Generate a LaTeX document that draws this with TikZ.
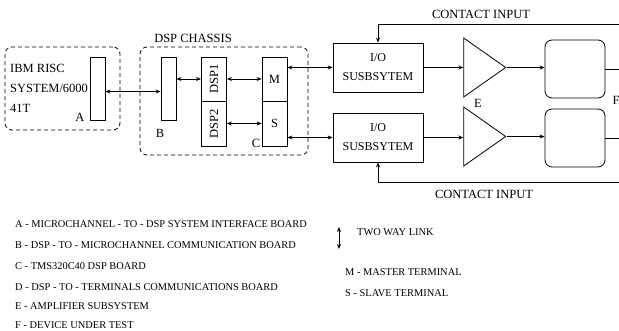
\documentclass[tikz,border=0pt]{standalone}
\usepackage{fontspec}
\setmainfont{Liberation Serif}
\usepackage{tikz}
\usetikzlibrary{arrows.meta, positioning, shapes.geometric}

\tikzset{
  board/.style={draw, line width=0.8pt, inner sep=0pt},
  group/.style={draw, line width=0.8pt, dash pattern=on 4pt off 3pt, rounded corners=7pt, inner sep=0pt},
  link/.style={line width=0.8pt, <->},
  flow/.style={line width=0.8pt, ->},
  amp/.style={draw, line width=0.8pt, isosceles triangle, isosceles triangle stretches,
    inner sep=0pt, minimum width=59pt, minimum height=42pt},
  dut/.style={draw, line width=0.8pt, rounded corners=7pt, minimum width=60pt, minimum height=58pt},
  legend/.style={anchor=west, inner sep=0pt, font=\fontsize{10.4}{12}\selectfont},
}

\begin{document}
\begin{tikzpicture}[x=1pt, y=-1pt, >={Stealth[length=5pt,width=4pt]}, font=\fontsize{12.5}{14}\selectfont]
  \useasboundingbox (0,0) rectangle (619,331);

  % Host computer
  \node[group, minimum width=115pt, minimum height=83pt] (host) at (62.5,88.5) {};
  \node[anchor=west, inner sep=0pt] (ibm) at (10,68) {IBM RISC};
  \node[anchor=west, inner sep=0pt] (sys) at (10,88) {SYSTEM/6000};
  \node[anchor=west, inner sep=0pt] (mod) at (10,108) {41T};
  \node[board, minimum width=15pt, minimum height=63pt] (cardA) at (97.5,88.5) {};
  \node (labA) at (80,117) {A};

  % DSP chassis
  \node[group, minimum width=168pt, minimum height=108pt] (chassis) at (224,101) {};
  \node (chtitle) at (193,38) {DSP CHASSIS};
  \node[board, minimum width=15pt, minimum height=63pt] (cardB) at (168.5,88.5) {};
  \node (labB) at (160,133) {B};
  \node[board, minimum width=25pt, minimum height=44pt] (dsp1) at (214,79) {\rotatebox{90}{DSP1}};
  \node[board, minimum width=25pt, minimum height=45pt] (dsp2) at (214,123.5) {\rotatebox{90}{DSP2}};
  \node[board, minimum width=25pt, minimum height=44pt] (termM) at (274.5,79) {M};
  \node[board, minimum width=25pt, minimum height=45pt] (termS) at (274.5,123.5) {S};
  \node (labC) at (256,143) {C};

  \draw[link] ([yshift=-3pt]cardA.east) -- ([yshift=-3pt]cardB.west);
  \draw[link] (cardB.east |- dsp1.west) -- (dsp1.west);
  \draw[link] (dsp1.east) -- (termM.west);
  \draw[link] (dsp2.east) -- (termS.west);

  % I/O, amplifiers, devices
  \node[board, minimum width=90pt, minimum height=49pt, align=center,
    font=\fontsize{12}{19}\selectfont] (io1) at (378,67.5) {I/O\\SUSBSYTEM};
  \node[board, minimum width=90pt, minimum height=49pt, align=center,
    font=\fontsize{12}{19}\selectfont] (io2) at (378,137.5) {I/O\\SUSBSYTEM};
  \node[amp] (amp1) at (479,67.5) {};
  \node[amp] (amp2) at (479,136.5) {};
  \node (labE) at (478,103) {E};
  \node[dut] (dut1) at (575,69) {};
  \node[dut] (dut2) at (575,138) {};
  \node[anchor=west] (labF) at (609,100) {F};

  \draw[link] (termM.east |- io1.west) -- (io1.west);
  \draw[link] (termS.east |- io2.west) -- (io2.west);
  \draw[flow] (io1.east) -- (io1.east -| amp1.lower side);
  \draw[flow] (io2.east) -- (io2.east -| amp2.lower side);
  \draw[flow] (amp1.apex) -- (amp1.apex -| dut1.west);
  \draw[flow] (amp2.apex) -- (amp2.apex -| dut2.west);
  \coordinate (out1) at (625,69);
  \coordinate (out2) at (625,138);
  \draw[line width=0.8pt] (dut1.east) -- (out1);
  \draw[line width=0.8pt] (dut2.east) -- (out2);

  % Contact inputs
  \coordinate (ci1) at (625,24);
  \coordinate (ci2) at (625,182);
  \draw[flow] (ci1) -- (io1.north |- ci1) -- (io1.north);
  \draw[flow] (ci2) -- (io2.south |- ci2) -- (io2.south);
  \node (citop) at (481,14) {CONTACT INPUT};
  \node (cibot) at (484,194) {CONTACT INPUT};

  % Legend
  \node[legend] (keyA) at (15,224) {A - MICROCHANNEL - TO - DSP SYSTEM INTERFACE BOARD};
  \node[legend] (keyB) at (15,245) {B - DSP - TO - MICROCHANNEL COMMUNICATION BOARD};
  \node[legend] (keyC) at (15,266) {C - TMS320C40 DSP BOARD};
  \node[legend] (keyD) at (15,287) {D - DSP - TO - TERMINALS COMMUNICATIONS BOARD};
  \node[legend] (keyE) at (15,306) {E - AMPLIFIER SUBSYSTEM};
  \node[legend] (keyF) at (15,325) {F - DEVICE UNDER TEST};
  \coordinate (tw1) at (339,227);
  \coordinate (tw2) at (339,249);
  \draw[link] (tw1) -- (tw2);
  \node[legend] (keyL) at (357,232) {TWO WAY LINK};
  \node[legend] (keyM) at (345,272) {M - MASTER TERMINAL};
  \node[legend] (keyS) at (345,293) {S - SLAVE TERMINAL};
\end{tikzpicture}
\end{document}
